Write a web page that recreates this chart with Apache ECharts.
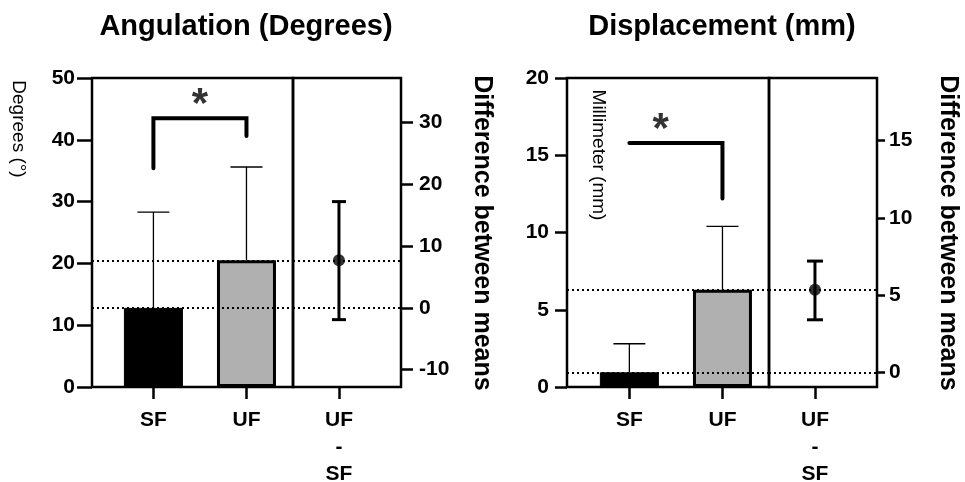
<!DOCTYPE html>
<html>
<head>
<meta charset="utf-8">
<script src="https://cdn.jsdelivr.net/npm/echarts@6/dist/echarts.min.js"></script>
<style>
html,body{margin:0;padding:0;background:#fff;}
#chart{width:965px;height:482px;}
</style>
</head>
<body>
<div id="chart"></div>
<script>
// ---- data ----
const categories = ['SF', 'UF'];
const diffLabel = 'UF\n-\nSF';
const titles = ['Angulation (Degrees)', 'Displacement (mm)'];
const yNames = ['Degrees (°)', 'Millimeter (mm)'];
const diffName = 'Difference between means';

const angMean = [12.8, 20.5];
const angUpper = [28.3, 35.6];
const angDiff = [7.7, -1.9, 17.2];          // mean, CI low, CI high
const angBracket = [[1, 35.4], [1, 43.5], [2, 43.5], [2, 40.6]];
const angStar = [1.5, 47];
const angTicks = [0, 10, 20, 30, 40, 50];
const angDiffTicks = [-10, 0, 10, 20, 30];

const dispMean = [0.95, 6.3];
const dispUpper = [2.8, 10.4];
const dispDiff = [5.35, 3.4, 7.2];
const dispBracket = [[1, 15.8], [2, 15.8], [2, 12.2]];
const dispStar = [1.335, 17.2];
const dispTicks = [0, 5, 10, 15, 20];
const dispDiffTicks = [0, 5, 10, 15];

// ---- styling helpers ----
const FONT = '"Liberation Sans", Arial, Helvetica, sans-serif';
const chart = echarts.init(document.getElementById('chart'), null, {renderer: 'canvas'});

function errRender(capW, lw) {
  return function (params, api) {
    const x = api.value(0);
    const a = api.coord([x, api.value(1)]);
    const b = api.coord([x, api.value(2)]);
    return {type: 'group', children: [
      {type: 'line', shape: {x1: a[0], y1: a[1], x2: b[0], y2: b[1]}, style: {stroke: '#000', lineWidth: lw}},
      {type: 'line', shape: {x1: b[0] - capW / 2, y1: b[1], x2: b[0] + capW / 2, y2: b[1]}, style: {stroke: '#000', lineWidth: lw}}
    ]};
  };
}
function ciRender(capW, lw) {
  return function (params, api) {
    const x = api.value(0);
    const a = api.coord([x, api.value(1)]);
    const b = api.coord([x, api.value(2)]);
    const st = {stroke: '#000', lineWidth: lw};
    return {type: 'group', children: [
      {type: 'line', shape: {x1: a[0], y1: a[1], x2: b[0], y2: b[1]}, style: st},
      {type: 'line', shape: {x1: a[0] - capW / 2, y1: a[1], x2: a[0] + capW / 2, y2: a[1]}, style: st},
      {type: 'line', shape: {x1: b[0] - capW / 2, y1: b[1], x2: b[0] + capW / 2, y2: b[1]}, style: st}
    ]};
  };
}
const dotted = {color: '#000', width: 2, type: [2, 3]};
function markLines(vals) {
  return {
    silent: true, symbol: 'none', label: {show: false},
    lineStyle: dotted,
    data: vals.map(v => ({yAxis: v}))
  };
}
const tickLabel = {color: '#000', fontFamily: FONT, fontWeight: 'bold', fontSize: 21};
const catLabel = {color: '#000', fontFamily: FONT, fontWeight: 'bold', fontSize: 21, lineHeight: 27};
const noLine = {show: false, onZero: false};
const tickStyle = {color: '#000', width: 2.5};

const gridBase = {show: true, borderColor: '#000', borderWidth: 2.5, backgroundColor: 'transparent',
  containLabel: false, outerBoundsMode: 'none'};

function barData(means) {
  return means.map((m, i) => ({
    value: [i + 1, m],
    itemStyle: i === 0 ? {color: '#000', borderColor: '#000', borderWidth: 1}
                       : {color: '#b0b0b0', borderColor: '#000', borderWidth: 3}
  }));
}
function catX(gridIndex, min, max, vals, fmt) {
  return {gridIndex: gridIndex, type: 'value', min: min, max: max, splitLine: {show: false}, axisLine: noLine,
    axisTick: {show: true, customValues: vals, length: 12, lineStyle: tickStyle},
    axisLabel: Object.assign({customValues: vals, margin: 20, formatter: fmt}, catLabel)};
}
function valY(gridIndex, pos, min, max, ticks, tickLen, margin) {
  return {gridIndex: gridIndex, type: 'value', position: pos, min: min, max: max, splitLine: {show: false}, axisLine: noLine,
    axisTick: {show: true, customValues: ticks, length: tickLen, lineStyle: tickStyle},
    axisLabel: Object.assign({customValues: ticks, margin: margin}, tickLabel)};
}

const option = {
  animation: false,
  backgroundColor: '#fff',
  grid: [
    Object.assign({left: 92, top: 78, width: 201, height: 309}, gridBase),
    Object.assign({left: 293, top: 78, width: 108, height: 309}, gridBase),
    Object.assign({left: 567, top: 78, width: 202, height: 309}, gridBase),
    Object.assign({left: 769, top: 78, width: 108, height: 309}, gridBase)
  ],
  xAxis: [
    catX(0, 0.34, 2.5, [1, 2], v => categories[Math.round(v) - 1]),
    catX(1, 0, 2.35, [1], () => diffLabel),
    catX(2, 0.33, 2.5, [1, 2], v => categories[Math.round(v) - 1]),
    catX(3, 0, 2.35, [1], () => diffLabel)
  ],
  yAxis: [
    valY(0, 'left', 0, 50, angTicks, 15, 17),
    valY(1, 'right', -angMean[0], 50 - angMean[0], angDiffTicks, 12, 18),
    valY(2, 'left', 0, 20, dispTicks, 12, 18),
    valY(3, 'right', -dispMean[0], 20 - dispMean[0], dispDiffTicks, 8, 12)
  ],
  series: [
    // ---- Angulation ----
    {type: 'bar', xAxisIndex: 0, yAxisIndex: 0, barWidth: 59, data: barData(angMean), z: 2,
     markLine: markLines(angMean)},
    {type: 'custom', xAxisIndex: 0, yAxisIndex: 0, renderItem: errRender(32, 1.3), z: 1,
     data: angMean.map((m, i) => [i + 1, m, angUpper[i]])},
    {type: 'line', xAxisIndex: 0, yAxisIndex: 0, data: angBracket, symbol: 'none', z: 3,
     lineStyle: {color: '#000', width: 4, cap: 'round', join: 'miter'}},
    {type: 'scatter', xAxisIndex: 0, yAxisIndex: 0, data: [angStar], symbolSize: 0, z: 4,
     label: {show: true, position: 'inside', formatter: '*', color: '#000', fontFamily: FONT, fontWeight: 'bold', fontSize: 42, offset: [0, 9]}},
    {type: 'custom', xAxisIndex: 1, yAxisIndex: 1, renderItem: ciRender(14, 3), z: 3,
     data: [[1, angDiff[1], angDiff[2]]]},
    {type: 'scatter', xAxisIndex: 1, yAxisIndex: 1, data: [[1, angDiff[0]]], symbol: 'circle', symbolSize: 12, z: 4,
     itemStyle: {color: '#000'}, markLine: markLines([0, angDiff[0]])},
    // ---- Displacement ----
    {type: 'bar', xAxisIndex: 2, yAxisIndex: 2, barWidth: 59, data: barData(dispMean), z: 2,
     markLine: markLines(dispMean)},
    {type: 'custom', xAxisIndex: 2, yAxisIndex: 2, renderItem: errRender(32, 1.3), z: 1,
     data: dispMean.map((m, i) => [i + 1, m, dispUpper[i]])},
    {type: 'line', xAxisIndex: 2, yAxisIndex: 2, data: dispBracket, symbol: 'none', z: 3,
     lineStyle: {color: '#000', width: 4, cap: 'round', join: 'miter'}},
    {type: 'scatter', xAxisIndex: 2, yAxisIndex: 2, data: [dispStar], symbolSize: 0, z: 4,
     label: {show: true, position: 'inside', formatter: '*', color: '#000', fontFamily: FONT, fontWeight: 'bold', fontSize: 42, offset: [0, 9]}},
    {type: 'custom', xAxisIndex: 3, yAxisIndex: 3, renderItem: ciRender(16, 3), z: 3,
     data: [[1, dispDiff[1], dispDiff[2]]]},
    {type: 'scatter', xAxisIndex: 3, yAxisIndex: 3, data: [[1, dispDiff[0]]], symbol: 'circle', symbolSize: 12, z: 4,
     itemStyle: {color: '#000'}, markLine: markLines([0, dispDiff[0]])}
  ],
  graphic: [
    {type: 'text', x: 246, y: 27, style: {text: titles[0], font: 'bold 29px ' + FONT, fill: '#000', align: 'center', verticalAlign: 'middle'}},
    {type: 'text', x: 722, y: 27, style: {text: titles[1], font: 'bold 29px ' + FONT, fill: '#000', align: 'center', verticalAlign: 'middle'}},
    {type: 'text', x: 18.5, y: 129, rotation: -Math.PI / 2, style: {text: yNames[0], font: '19px ' + FONT, fill: '#000', align: 'center', verticalAlign: 'middle'}},
    {type: 'text', x: 598, y: 155, rotation: -Math.PI / 2, z: 10, style: {text: yNames[1], font: '19px ' + FONT, fill: '#000', align: 'center', verticalAlign: 'middle'}},
    {type: 'text', x: 482, y: 233, rotation: -Math.PI / 2, style: {text: diffName, font: 'bold 25px ' + FONT, fill: '#000', align: 'center', verticalAlign: 'middle'}},
    {type: 'text', x: 948, y: 233, rotation: -Math.PI / 2, style: {text: diffName, font: 'bold 25px ' + FONT, fill: '#000', align: 'center', verticalAlign: 'middle'}}
  ]
};
chart.setOption(option);
</script>
</body>
</html>
